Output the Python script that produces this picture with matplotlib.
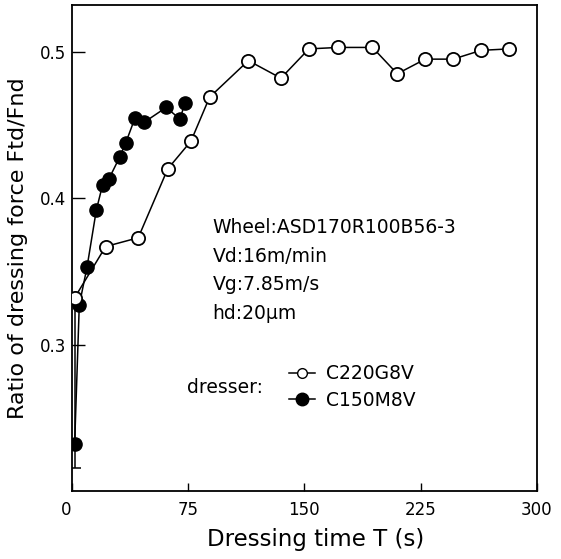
#Dressing force ratio vs dressing time, two dressers
import numpy as np
import matplotlib.pyplot as plt
from matplotlib.lines import Line2D

#Data
t_c220 = [2, 22, 43, 62, 77, 89, 114, 135, 153, 172, 194, 210, 228, 246, 264, 282]
r_c220 = [0.332, 0.367, 0.373, 0.420, 0.439, 0.469, 0.494, 0.482, 0.502, 0.503,
          0.503, 0.485, 0.495, 0.495, 0.501, 0.502]

t_c150 = [2, 5, 10, 16, 20, 24, 31, 35, 41, 47, 61, 70, 73]
r_c150 = [0.232, 0.327, 0.353, 0.392, 0.409, 0.413, 0.428, 0.438, 0.455, 0.452,
          0.462, 0.454, 0.465]

#Scatter of the first C150M8V point (lower, upper)
err_first = [[0.016], [0.100]]

x_ticks = [0, 75, 150, 225, 300]
y_ticks = [0.3, 0.4, 0.5]

condiciones = ["Wheel:ASD170R100B56-3", "Vd:16m/min", "Vg:7.85m/s", "hd:20\u03bcm"]

fig = plt.figure(figsize=(5.61, 5.59), dpi=100)
ax = fig.add_axes([0.1275, 0.1216, 0.8295, 0.8695])

lw = 1.1
ax.errorbar(t_c150[:1], r_c150[:1], yerr=err_first, fmt='none', ecolor='black',
            elinewidth=lw, capsize=4, capthick=lw, zorder=1)
ax.plot(t_c150, r_c150, '-o', color='black', lw=lw, markersize=9.5,
        markerfacecolor='black', zorder=2)
ax.plot(t_c220, r_c220, '-o', color='black', lw=lw, markersize=9.5,
        markerfacecolor='white', markeredgewidth=1.3, zorder=3)

ax.set_xlim(0, 300)
ax.set_ylim(0.2, 0.532)
ax.set_xticks(x_ticks)
ax.set_yticks(y_ticks)
ax.set_yticklabels([f"{v:.1f}" for v in y_ticks])
ax.tick_params(axis='x', direction='in', length=6, width=1, labelsize=12, pad=7)
ax.tick_params(axis='y', direction='in', length=9, width=1, labelsize=12, pad=4)
#The "0" label sits left of the origin in the original
ax.get_xticklabels()[0].set_horizontalalignment('right')
for s in ax.spines.values():
    s.set_linewidth(1.3)

ax.set_xlabel("Dressing time T (s)", fontsize=16.5)
ax.xaxis.set_label_coords(0.525, -0.077)
ax.set_ylabel("Ratio of dressing force Ftd/Fnd", fontsize=16)
ax.yaxis.set_label_coords(-0.093, 0.5)

#Experimental conditions
for i, txt in enumerate(condiciones):
    ax.text(0.303, 0.542 - i * 0.059, txt, transform=ax.transAxes, fontsize=13.5,
            va='center', ha='left')

ax.text(0.248, 0.214, "dresser:", transform=ax.transAxes, fontsize=13.5,
        va='center', ha='left')
handles = [Line2D([], [], color='black', lw=lw, marker='o', markersize=7,
                  markerfacecolor='white'),
           Line2D([], [], color='black', lw=lw, marker='o', markersize=9,
                  markerfacecolor='black')]
ax.legend(handles, ["C220G8V", "C150M8V"], loc='center left',
          bbox_to_anchor=(0.43, 0.214), frameon=False, fontsize=13.5,
          handlelength=1.4, handletextpad=0.6, labelspacing=0.4)

fig.savefig("out.png", dpi=100)
